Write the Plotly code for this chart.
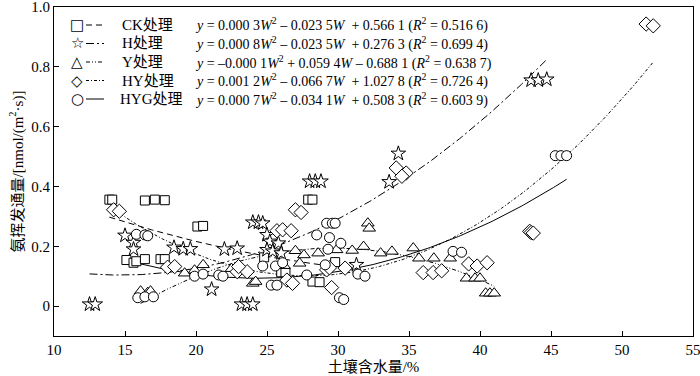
import numpy as np
import plotly.graph_objects as go

# ---------------- data ----------------
ck_x = [13.9, 14.1, 16.4, 17.1, 17.8, 20.1, 20.5, 15.1, 15.6, 15.8, 16.4, 17.5, 17.8,
        27.9, 28.2, 24.8, 26.0, 26.3, 28.2, 28.7, 29.8]
ck_y = [0.356, 0.356, 0.353, 0.356, 0.354, 0.266, 0.268, 0.154, 0.145, 0.150, 0.157, 0.157, 0.157,
        0.356, 0.356, 0.163, 0.113, 0.113, 0.082, 0.080, 0.147]

h_x = [12.5, 12.9, 15.0, 15.6, 15.6, 18.45, 19.1, 19.6, 22.0, 22.9, 24.0, 24.4, 24.7,
       21.1, 23.2, 23.6, 24.0, 28.0, 28.4, 28.8, 34.25, 33.6, 43.6, 44.1, 44.7,
       25.0, 25.2, 25.8, 25.0, 25.4, 26.0, 31.3]
h_y = [0.006, 0.006, 0.236, 0.212, 0.190, 0.196, 0.191, 0.191, 0.190, 0.193, 0.280, 0.280, 0.277,
       0.056, 0.006, 0.006, 0.006, 0.417, 0.417, 0.417, 0.510, 0.415, 0.755, 0.755, 0.758,
       0.238, 0.216, 0.210, 0.188, 0.183, 0.177, 0.138]

y_x = [16.1, 16.6, 16.8, 19.2, 19.9, 20.5, 24.0, 24.2, 27.0, 27.6, 28.6, 29.9, 31.0, 31.8,
       33.0, 33.8, 35.3, 35.7, 36.75, 37.9, 32.1, 32.2, 39.05, 39.65, 40.0, 40.4, 40.7, 41.0,
       27.3, 22.5, 26.2]
y_y = [0.050, 0.045, 0.050, 0.110, 0.120, 0.138, 0.076, 0.082, 0.185, 0.171, 0.177, 0.188, 0.186, 0.199,
       0.177, 0.183, 0.194, 0.160, 0.160, 0.160, 0.277, 0.260, 0.093, 0.093, 0.093, 0.043, 0.043, 0.043,
       0.143, 0.125, 0.135]

hy_x = [14.2, 14.6, 18.0, 18.5, 22.9, 23.6, 23.0, 26.4, 26.8, 29.2, 29.55, 30.5, 27.0, 27.4,
        25.7, 26.1, 26.7, 34.1, 34.8, 34.5, 36.0, 36.7, 37.3, 39.2, 39.8, 40.5,
        43.5, 43.6, 43.75, 51.7, 52.2, 29.4]
hy_y = [0.322, 0.317, 0.130, 0.132, 0.115, 0.115, 0.132, 0.087, 0.076, 0.121, 0.062, 0.127, 0.322, 0.313,
        0.252, 0.255, 0.252, 0.462, 0.445, 0.434, 0.112, 0.112, 0.118, 0.141, 0.134, 0.145,
        0.250, 0.246, 0.244, 0.943, 0.937, 0.128]

hyg_x = [15.8, 16.4, 16.6, 15.9, 16.4, 17.0, 19.9, 20.5, 21.6, 21.9, 24.7, 25.6, 25.3, 25.7,
         26.1, 27.8, 29.1, 31.4, 31.9, 30.1, 30.4, 29.2, 29.6, 29.8, 28.5, 29.4, 30.2, 29.3,
         38.1, 38.7, 45.3, 45.7, 46.1]
hyg_y = [0.240, 0.238, 0.235, 0.028, 0.031, 0.031, 0.100, 0.107, 0.104, 0.100, 0.134, 0.134, 0.070, 0.070,
         0.145, 0.104, 0.138, 0.107, 0.100, 0.028, 0.022, 0.277, 0.277, 0.277, 0.238, 0.229, 0.210, 0.190,
         0.183, 0.180, 0.503, 0.503, 0.503]

# quadratic fit coefficients [a, b, c] for y = a W^2 + b W + c (as drawn)
ck_fit = [0.0003, -0.0235, 0.5661]
h_fit = [0.0008, -0.0235, 0.2763]
y_fit = [-0.0010, 0.0594, -0.6881]   # curve drawn in the figure (label prints -0.000 1)
hy_fit = [0.0012, -0.0667, 1.0278]
hyg_fit = [0.0007, -0.0341, 0.5083]

series_names = ["CK处理", "H处理", "Y处理", "HY处理", "HYG处理"]
equations = [
    "<i>y</i> = 0.000 3<i>W</i><sup>2</sup> – 0.023 5<i>W</i>  + 0.566 1 (<i>R</i><sup>2</sup> = 0.516 6)",
    "<i>y</i> = 0.000 8<i>W</i><sup>2</sup> – 0.023 5<i>W</i>  + 0.276 3 (<i>R</i><sup>2</sup> = 0.699 4)",
    "<i>y</i> = –0.000 1<i>W</i><sup>2</sup> + 0.059 4<i>W</i> – 0.688 1 (<i>R</i><sup>2</sup> = 0.638 7)",
    "<i>y</i> = 0.001 2<i>W</i><sup>2</sup> – 0.066 7<i>W</i>  + 1.027 8 (<i>R</i><sup>2</sup> = 0.726 4)",
    "<i>y</i> = 0.000 7<i>W</i><sup>2</sup> – 0.034 1<i>W</i>  + 0.508 3 (<i>R</i><sup>2</sup> = 0.603 9)",
]
x_ticks = [10, 15, 20, 25, 30, 35, 40, 45, 50, 55]
y_ticks = [0, 0.2, 0.4, 0.6, 0.8, 1.0]
y_tick_labels = ["0", "0.2", "0.4", "0.6", "0.8", "1.0"]

# ---------------- styling ----------------
FONT = "Liberation Serif, Times New Roman, Noto Sans CJK SC, serif"
symbols = ["square", "star", "triangle-up", "diamond", "circle"]
glyphs = ["□", "☆", "△", "◇", "○"]
sizes = [9, 11, 11, 11, 10]
dashes = ["6px,4px", "8px,3px,2px,3px", "4px,2px,1px,2px,1px,2px", "3px,2px,1px,2px", "solid"]

xs = [ck_x, h_x, y_x, hy_x, hyg_x]
ys = [ck_y, h_y, y_y, hy_y, hyg_y]
fits = [ck_fit, h_fit, y_fit, hy_fit, hyg_fit]

fig = go.Figure()

# fit curves over each series' data range
for i in range(5):
    w = np.linspace(min(xs[i]), max(xs[i]), 200)
    a, b, c = fits[i]
    fig.add_trace(go.Scatter(x=w, y=a * w ** 2 + b * w + c, mode="lines",
                             line=dict(color="black", width=1, dash=dashes[i]),
                             showlegend=False, hoverinfo="skip"))

# scatter points
for i in range(5):
    fig.add_trace(go.Scatter(x=xs[i], y=ys[i], mode="markers", name=series_names[i],
                             marker=dict(symbol=symbols[i], size=sizes[i], color="white",
                                         line=dict(color="black", width=1)),
                             showlegend=False))

# manual legend (paper coordinates)
L, R, T, B, W, H = 54, 7, 7, 40, 700, 376
pw, ph = W - L - R, H - T - B


def px2paper(px, py):
    return (px - L) / pw, (H - B - py) / ph


row_y = [25, 43.5, 62, 80.5, 99]
for i in range(5):
    gx, gy = px2paper(77, row_y[i])
    fig.add_annotation(x=gx, y=gy, xref="paper", yref="paper", text=glyphs[i], showarrow=False,
                       font=dict(family="DejaVu Sans", size=15, color="black"), xanchor="center", yanchor="middle")
    x0, _ = px2paper(86, row_y[i])
    x1, _ = px2paper(104, row_y[i])
    fig.add_shape(type="line", xref="paper", yref="paper", x0=x0, x1=x1, y0=gy, y1=gy,
                  line=dict(color="black", width=1, dash=dashes[i]))
    lx, _ = px2paper(118 if i == 4 else 120, row_y[i])
    fig.add_annotation(x=lx, y=gy, xref="paper", yref="paper", text=series_names[i], showarrow=False,
                       font=dict(family=FONT, size=15, color="black"), xanchor="left", yanchor="middle")
    ex, _ = px2paper(193, row_y[i])
    fig.add_annotation(x=ex, y=gy, xref="paper", yref="paper", text=equations[i], showarrow=False,
                       font=dict(family=FONT, size=14, color="black"), xanchor="left", yanchor="middle")

fig.update_layout(
    width=W, height=H,
    margin=dict(l=L, r=R, t=T, b=B),
    paper_bgcolor="white", plot_bgcolor="white",
    font=dict(family=FONT, size=15, color="black"),
    showlegend=False,
)
fig.update_xaxes(range=[10, 55], tickvals=x_ticks, ticktext=[str(v) for v in x_ticks],
                 ticks="inside", ticklen=5, tickcolor="black", showline=True, linecolor="black",
                 linewidth=1, mirror=True, showgrid=False, zeroline=False, automargin=False,
                 ticklabeloverflow="allow",
                 title=dict(text="土壤含水量/%", font=dict(size=15), standoff=0))
fig.update_yaxes(range=[-0.1, 1.0], tickvals=y_ticks, ticktext=y_tick_labels,
                 ticks="inside", ticklen=5, tickcolor="black", showline=True, linecolor="black",
                 linewidth=1, mirror=True, showgrid=False, zeroline=False, automargin=False,
                 ticklabeloverflow="allow",
                 title=dict(text="氨挥发通量/[nmol/(m<sup>2</sup>·s)]", font=dict(size=15), standoff=4))

fig.write_html("out.html", config={"displayModeBar": False},
               post_script="document.body.style.margin='0px';document.body.style.padding='0px';")
